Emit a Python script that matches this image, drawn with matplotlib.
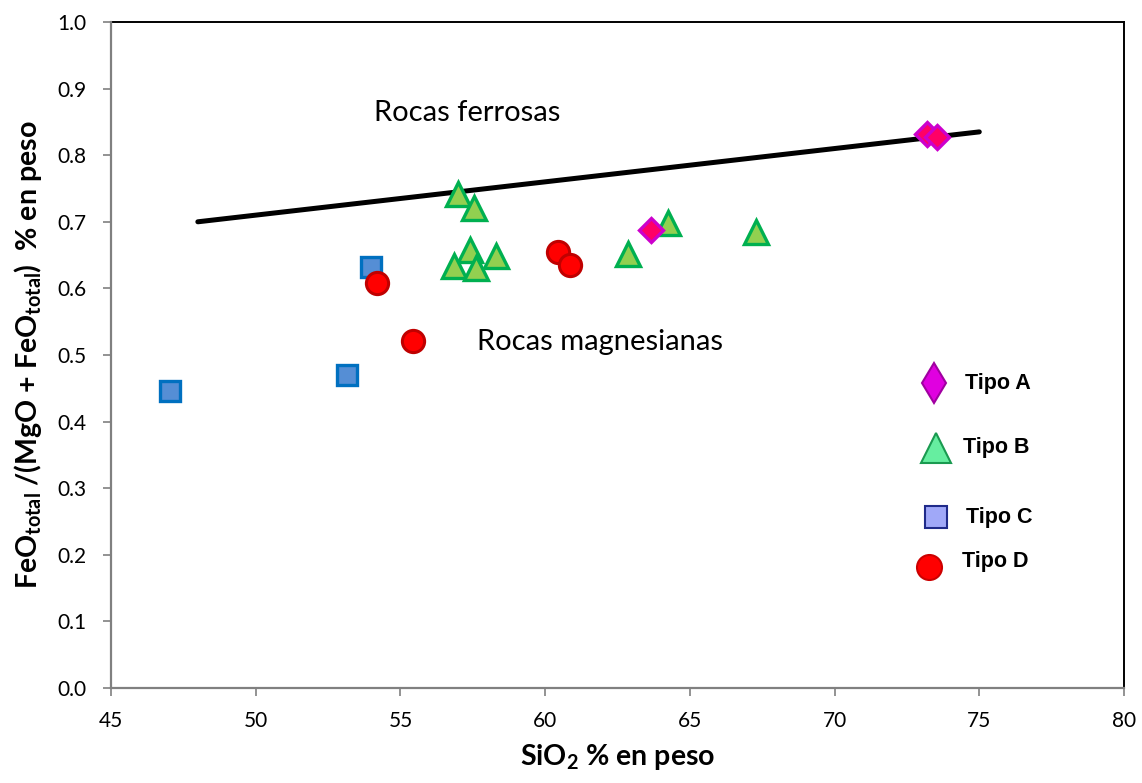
import matplotlib
matplotlib.use("Agg")
import matplotlib.pyplot as plt
import numpy as np

plt.rcParams['font.family'] = ['Lato', 'DejaVu Sans']
plt.rcParams['mathtext.fontset'] = 'custom'
plt.rcParams['mathtext.bf'] = 'Lato:bold'
plt.rcParams['mathtext.rm'] = 'Lato:bold'
plt.rcParams['mathtext.default'] = 'bf'

# Data
tipoA_x = [73.2, 73.55, 63.65]
tipoA_y = [0.832, 0.828, 0.688]
tipoB_x = [57.0, 57.55, 57.4, 56.85, 57.6, 58.3, 62.85, 64.25, 67.3]
tipoB_y = [0.742, 0.720, 0.658, 0.633, 0.630, 0.648, 0.652, 0.698, 0.685]
tipoC_x = [54.0, 53.15, 47.05]
tipoC_y = [0.632, 0.470, 0.446]
tipoD_x = [54.2, 55.45, 60.45, 60.85]
tipoD_y = [0.608, 0.521, 0.655, 0.635]
line_x = [48, 75]
line_y = [0.70, 0.835]

x_ticks = [45, 50, 55, 60, 65, 70, 75, 80]
y_ticks = [0.0, 0.1, 0.2, 0.3, 0.4, 0.5, 0.6, 0.7, 0.8, 0.9, 1.0]

legend_labels = ['Tipo A', 'Tipo B', 'Tipo C', 'Tipo D']

fig = plt.figure(figsize=(11.42, 7.83), dpi=100)
ax = fig.add_axes([111/1142, 95/783, 1013/1142, 666/783])

ax.plot(line_x, line_y, color='black', lw=3.6, solid_capstyle='round', zorder=2)

ax.plot(tipoC_x, tipoC_y, 's', ms=14, mfc='#558ed5', mec='#0070c0', mew=2.4, zorder=3)
ax.plot(tipoB_x, tipoB_y, '^', ms=17, mfc='#92d050', mec='#00b050', mew=2.4, zorder=3)
ax.plot(tipoD_x, tipoD_y, 'o', ms=16, mfc='#ff0000', mec='#c00000', mew=2.2, zorder=4)
ax.plot(tipoA_x, tipoA_y, 'D', ms=12, mfc='#ff0066', mec='#cc00cc', mew=2.4, zorder=5)

ax.set_xlim(45, 80)
ax.set_ylim(0, 1.0)
ax.set_xticks(x_ticks)
ax.set_yticks(y_ticks)
ax.set_yticklabels([f'{v:.1f}' for v in y_ticks])
ax.tick_params(axis='both', labelsize=15, color='#808080', length=5.5, width=1.2)
ax.tick_params(axis='y', pad=12)
ax.tick_params(axis='x', pad=11)
for s in ['top', 'right']:
    ax.spines[s].set_color('black')
    ax.spines[s].set_linewidth(1.4)
for s in ['left', 'bottom']:
    ax.spines[s].set_color('#808080')
    ax.spines[s].set_linewidth(1.6)
    ax.spines[s].set_zorder(3)

ax.set_xlabel(r'SiO$_{2}$ % en peso', fontsize=20.5, fontweight='bold', labelpad=8)
ax.set_ylabel(r'FeO$_{total}$ /(MgO + FeO$_{total}$)  % en peso', fontsize=20.5,
              fontweight='bold', labelpad=10)

ax.text(54.1, 0.863, 'Rocas ferrosas', fontsize=21, va='center', ha='left')
ax.text(57.65, 0.52, 'Rocas magnesianas', fontsize=21, va='center', ha='left')

# manual legend (axes fraction)
def fx(px):
    return (px - 111) / 1013
def fy(py):
    return (688 - py) / 666

leg = [
    (934, 383, 'd', 20, '#e000e0', '#a000a0', 965, 383),
    (936, 448, '^', 22, '#66eea0', '#1a9a50', 963, 448),
    (936, 517, 's', 16, '#a0a8f8', '#1f2a8a', 966, 517),
    (929, 567, 'o', 18, '#ff0000', '#cc0000', 962, 562),
]
for (mx, my, mk, ms, fc, ec, tx, ty), lab in zip(leg, legend_labels):
    ax.plot([fx(mx)], [fy(my)], mk, ms=ms, mfc=fc, mec=ec, mew=1.5,
            transform=ax.transAxes, clip_on=False, zorder=6)
    ax.text(fx(tx), fy(ty), lab, transform=ax.transAxes, fontsize=15.5,
            fontweight='bold', family=['Liberation Sans', 'DejaVu Sans'],
            va='center', ha='left')

fig.savefig('out.png', dpi=100)
